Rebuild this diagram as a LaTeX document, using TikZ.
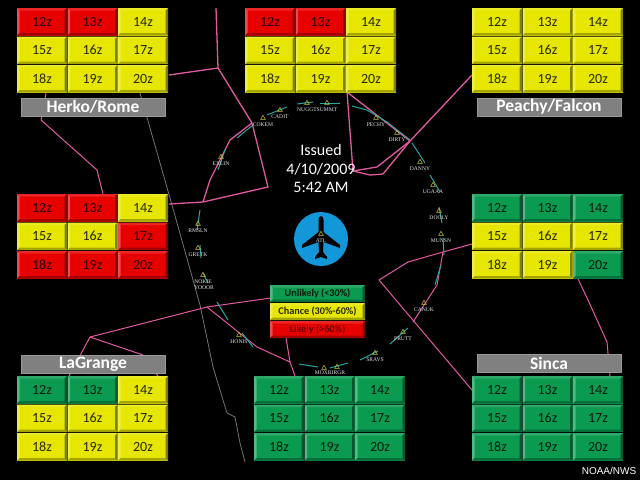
\documentclass[tikz,border=0pt]{standalone}
\usepackage{fontspec}
\setmainfont{Carlito}
\newfontfamily\wptfont{Liberation Serif}
\newfontfamily\creditfont{Liberation Sans}
\usetikzlibrary{calc,shapes.geometric}
\definecolor{wxred}{HTML}{E60000}
\definecolor{wxyellow}{HTML}{E6E600}
\definecolor{wxgreen}{HTML}{0A9A50}
\definecolor{airspace}{HTML}{E15AA0}
\definecolor{airway}{HTML}{2AA5A0}
\definecolor{hub}{HTML}{1497D8}
\tikzset{bevel/.style={fill=#1, text=#1!18!black, path picture={
    \path (path picture bounding box.north west) coordinate (nw)
          (path picture bounding box.north east) coordinate (ne)
          (path picture bounding box.south west) coordinate (sw)
          (path picture bounding box.south east) coordinate (se);
    \fill[#1!85!white] (nw)--(ne)--($(ne)+(-2.5,2.5)$)--($(nw)+(2.5,2.5)$)--cycle;
    \fill[#1!70!white] (nw)--(sw)--($(sw)+(2.5,-2.5)$)--($(nw)+(2.5,2.5)$)--cycle;
    \fill[#1!55!black] (ne)--(se)--($(se)+(-2.5,-2.5)$)--($(ne)+(-2.5,2.5)$)--cycle;
    \fill[#1!72!black] (sw)--(se)--($(se)+(-2.5,-2.5)$)--($(sw)+(2.5,-2.5)$)--cycle;
    }}}
\tikzstyle{cell}  = [anchor=north west, inner sep=0, outer sep=0, minimum width=50pt, minimum height=27.5pt,
                     font=\fontsize{14}{14}\selectfont]
\tikzstyle{redcell} = [bevel=wxred]
\tikzstyle{yelcell} = [bevel=wxyellow]
\tikzstyle{grncell} = [bevel=wxgreen]
\tikzstyle{sector} = [anchor=north west, inner sep=0, fill=black!50, draw=black!40, line width=1pt,
                      minimum width=144pt, minimum height=18pt, text=white,
                      font=\fontsize{17.5}{17.5}\selectfont\bfseries]
\tikzstyle{key}   = [anchor=north west, inner sep=0, outer sep=0, minimum width=95pt, minimum height=17pt,
                     font=\fontsize{10.2}{10.2}\selectfont\bfseries]
\tikzstyle{issued} = [text=white, font=\fontsize{16}{16}\selectfont]
\tikzstyle{wpt}   = [regular polygon, regular polygon sides=3, draw=yellow!80!black, line width=.5pt,
                     inner sep=0, minimum size=5.5pt]
\tikzstyle{wptname} = [text=white!90!black, inner sep=0, font=\fontsize{5.6}{5.6}\selectfont\wptfont]
\tikzstyle{border} = [airspace, line width=1.3pt, line join=round]
\tikzstyle{route} = [airway, line width=1pt]
% grid of hours: name, left, top, colours
\newcommand{\wxgrid}[4]{%
  \foreach \col [count=\n from 0] in {#4} {
    \pgfmathtruncatemacro{\hr}{12+\n}
    \pgfmathsetmacro{\cx}{#2+mod(\n,3)*50.5}
    \pgfmathsetmacro{\cy}{#3+int(\n/3)*28.5}
    \node (#1\hr) [cell, \col cell] at (\cx,\cy) {\hr z};
  }
}
% waypoint: name, x, y, text
\newcommand{\waypt}[4]{%
  \node (#1) [wpt] at (#2,#3) {};
  \node (#1name) [wptname] at (#2,#3+6.5) {#4};
}

\begin{document}
\begin{tikzpicture}[x=1pt, y=-1pt]
    \useasboundingbox (0,0) rectangle (640,480);
    \fill[black] (0,0) rectangle (640,480);

    % state line
    \draw[black!55, line width=.8pt] (140,93)--(172,205)--(200,305)--(213,367)--(223,400)--(227,413)--(235,417)--(240,443)--(245,462);

    % sector borders
    \draw[border] (216,8)--(218,68)--(169,75);
    \draw[border] (218,68)--(252,123)--(268,187)--(203,202)--(169,204);
    \draw[border] (252,123)--(230,140)--(210,180)--(203,202);
    \draw[border, line width=1pt] (46,93)--(41,120)--(97,170)--(103,194);
    \draw[border] (347,92)--(353,171)--(370,175)--(383,174)--(410,141)--cycle;
    \draw[border] (353,171)--(377,167)--(410,141)--(472,75);
    \draw[border, line width=1pt] (271,298)--(207,307)--(90,337)--(69,376);
    \draw[border, line width=1pt] (90,337)--(143,355)--(158,376);
    \draw[border, line width=1pt] (207,307)--(257,347)--(290,362)--(295,376);
    \draw[border, line width=1pt] (286,338)--(290,362);
    \draw[border, line width=1pt] (472,244)--(443,252)--(408,262)--(379,280)--(472,390);
    \draw[border, line width=1pt] (443,252)--(437,285)--(413,322);
    \draw[border, line width=1pt] (578,279)--(588,300)--(607,342)--(610,376);

    % routes
    \draw[route] (267,115)--(287,107);
    \draw[route] (297,104)--(313,102);
    \draw[route] (237,138)--(253,125);
    \draw[route] (225,150)--(218,170);
    \draw[route] (320,103)--(340,103);
    \draw[route] (352,106)--(367,110)--(387,122)--(410,140);
    \draw[route] (412,143)--(425,163);
    \draw[route] (430,175)--(440,192);
    \draw[route] (439,207)--(442,223);
    \draw[route] (443,238)--(444,255);
    \draw[route] (441,265)--(435,285);
    \draw[route] (408,328)--(390,344);
    \draw[route] (378,351)--(360,360);
    \draw[route] (348,363)--(330,368);
    \draw[route] (318,367)--(299,364);
    \draw[route] (200,210)--(197,230);
    \draw[route] (200,245)--(201,258);
    \draw[route] (203,273)--(208,283);
    \draw[route] (217,302)--(228,320);
    \draw[route] (242,333)--(253,347);

    % hub
    \node (atl) [circle, fill=hub, inner sep=0, minimum size=54pt] at (321,239) {};
    \fill[black] (318.5,220) to[out=90,in=180] (321,216) to[out=0,in=90] (323.5,220)
        --(323.5,232)--(340,245)--(340,248)--(323.5,242)--(323,252)--(327,257)--(327,259)--(321,257)
        --(315,259)--(315,257)--(319,252)--(318.5,242)--(302,248)--(302,245)--(318.5,232)--cycle;

    % waypoints
    \waypt{cokem}{263}{118}{COKEM}
    \waypt{cadit}{280}{110}{CADIT}
    \waypt{nuggt}{307}{103}{NUGGT}
    \waypt{summt}{327}{103}{SUMMT}
    \waypt{pechy}{376}{118}{PECHY}
    \waypt{dirty}{397}{133}{DIRTY}
    \waypt{danny}{420}{162}{DANNY}
    \waypt{ugaaa}{433}{185}{UGAAA}
    \waypt{dooly}{439}{211}{DOOLY}
    \waypt{munsn}{441}{234}{MUNSN}
    \waypt{canuk}{424}{303}{CANUK}
    \waypt{prutt}{403}{332}{PRUTT}
    \waypt{sravs}{375}{353}{SRAVS}
    \node (birgr) [wpt] at (337,367) {};
    \node (moxbi) [wpt] at (324,368) {};
    \node (birgrname) [wptname] at (330,373) {MOXBIRGR};
    \waypt{honis}{239}{335}{HONIS}
    \waypt{nokie}{203}{275}{NOKIE}
    \waypt{gretk}{198}{248}{GRETK}
    \waypt{rmsln}{198}{224}{RMSLN}
    \waypt{exlin}{221}{157}{EXLIN}
    \waypt{airport}{321}{234}{ATL}
    \node (yooor) [wptname] at (204,288) {YOOOR};

    % forecast grids
    \wxgrid{herko}{17}{8}{red,red,yel,yel,yel,yel,yel,yel,yel}
    \wxgrid{center}{245}{8}{red,red,yel,yel,yel,yel,yel,yel,yel}
    \wxgrid{peachy}{472}{8}{yel,yel,yel,yel,yel,yel,yel,yel,yel}
    \wxgrid{west}{17}{194}{red,red,yel,yel,yel,red,red,red,red}
    \wxgrid{east}{472}{194}{grn,grn,grn,yel,yel,yel,yel,yel,grn}
    \wxgrid{lagrange}{17}{376}{grn,grn,yel,yel,yel,yel,yel,yel,yel}
    \wxgrid{south}{254}{376}{grn,grn,grn,grn,grn,grn,grn,grn,grn}
    \wxgrid{sinca}{472}{376}{grn,grn,grn,grn,grn,grn,grn,grn,grn}

    % sector names
    \node (herko) [sector] at (20.5,97.5) {Herko/Rome};
    \node (peachy) [sector] at (476.5,97.5) {Peachy/Falcon};
    \node (lagrange) [sector] at (20.5,354.5) {LaGrange};
    \node (sinca) [sector] at (476.5,353.5) {Sinca};

    % legend
    \node (unlikely) [key, bevel=wxgreen] at (270,285) {Unlikely (<30\%)};
    \node (chance) [key, bevel=wxyellow] at (270,303) {Chance (30\%-60\%)};
    \node (likely) [key, bevel=wxred, text=wxred!45!black] at (270,321) {Likely (>60\%)};

    % issue time
    \node (issued) [issued] at (321,150) {Issued};
    \node (date) [issued] at (321,169) {4/10/2009};
    \node (time) [issued] at (321,187) {5:42 AM};

    \node (credit) [text=white, inner sep=0, font=\fontsize{10}{10}\selectfont\creditfont] at (609,471) {NOAA/NWS};
\end{tikzpicture}
\end{document}
